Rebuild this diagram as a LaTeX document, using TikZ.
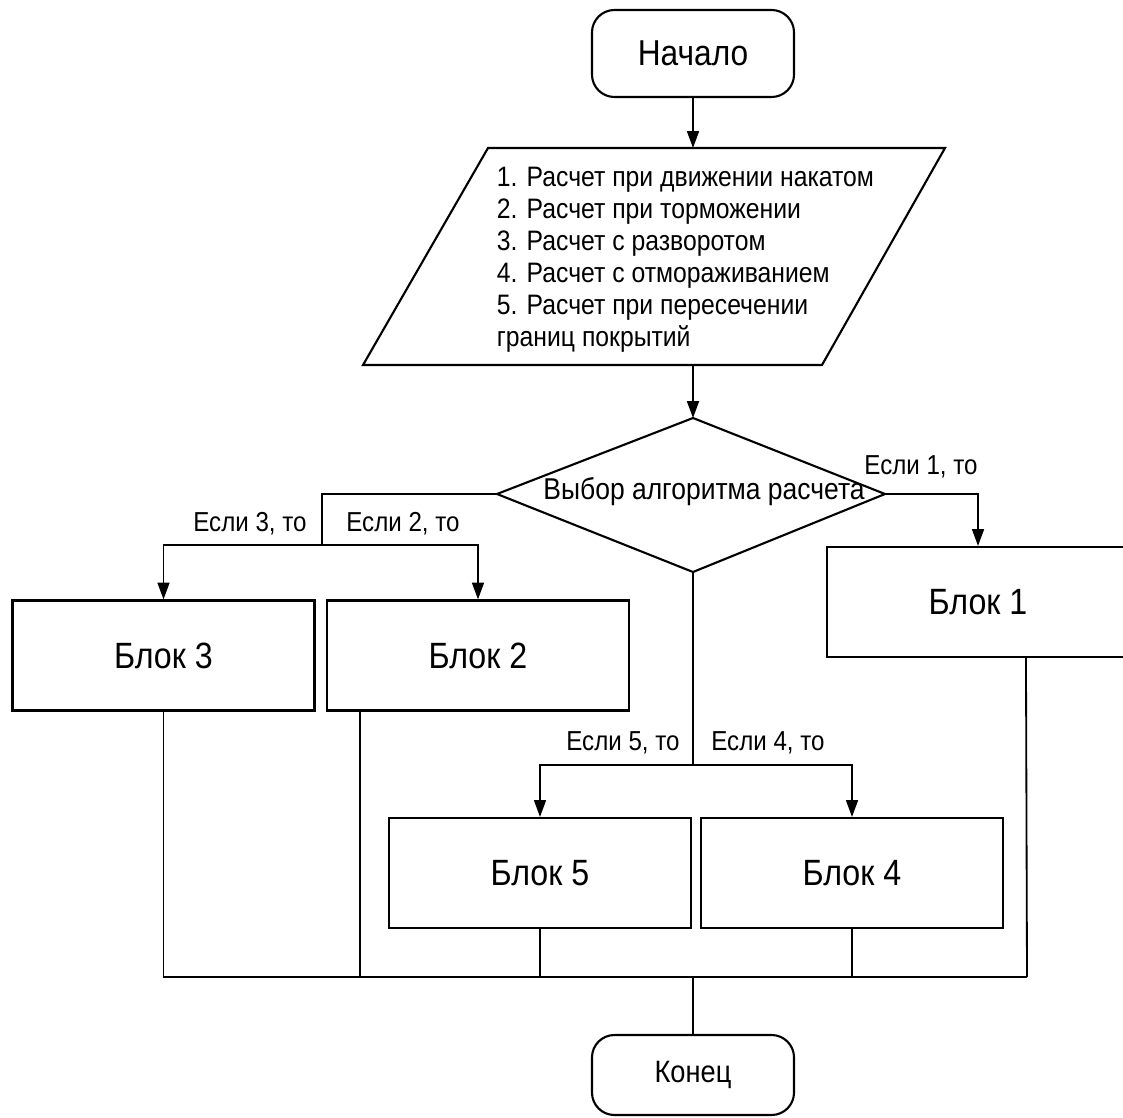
\documentclass[tikz,border=0pt]{standalone}
\usepackage{fontspec}
\setmainfont{Liberation Sans}[FakeStretch=0.88]
\usetikzlibrary{arrows.meta}
\tikzset{
  arr/.style={-{Triangle[length=12pt,width=8.5pt]}},
  term/.style={draw,line width=1.5pt,rounded corners=16pt,minimum width=5.05cm,minimum height=2.175cm,inner sep=0pt},
  block/.style={draw,line width=1.5pt,minimum width=7.55cm,minimum height=2.75cm,inner sep=0pt,font=\fontsize{26}{30}\selectfont},
  lbl/.style={inner sep=0pt,font=\fontsize{19.5}{22}\selectfont}
}
\begin{document}
\begin{tikzpicture}[x=0.025cm,y=-0.025cm,line width=1.3pt]
\useasboundingbox (0,0) rectangle (1123,1117);
\node[term,font=\fontsize{25.6}{30}\selectfont](start) at (693,53.5) {Начало};
% input parallelogram
\coordinate (inN) at (693,148);
\coordinate (inS) at (693,365);
\draw[line width=1.5pt] (488,148) -- (945,148) -- (822,365) -- (363,365) -- cycle;
\node[anchor=north west,align=left,inner sep=0pt,font=\fontsize{20}{22.8}\selectfont](input) at (496,166)
{1. Расчет при движении накатом\\2. Расчет при торможении\\3. Расчет с разворотом\\4. Расчет с отмораживанием\\5. Расчет при пересечении\\границ покрытий};
% choice
\coordinate (chN) at (693,418);
\coordinate (chS) at (693,572);
\coordinate (chW) at (497,494);
\coordinate (chE) at (885,494);
\draw[line width=1.5pt] (chN) -- (chE) -- (chS) -- (chW) -- cycle;
\node[inner sep=0pt,font=\fontsize{21.4}{25}\selectfont](choice) at (704,492) {Выбор алгоритма расчета};
% blocks
\node[block](b1) at (978,602) {Блок 1};
\node[block](b2) at (478,655.5) {Блок 2};
\node[block](b3) at (163.5,655.5) {Блок 3};
\node[block](b4) at (852,873) {Блок 4};
\node[block](b5) at (540,873) {Блок 5};
\node[term,minimum height=2cm,font=\fontsize{22}{26}\selectfont](end) at (693,1075) {Конец};
% forks and joins
\coordinate (fork32) at (322,545);
\coordinate (fork54) at (693,765);
\coordinate (join) at (693,977);
\coordinate (joinR) at (1027,977);
\coordinate (b2out) at ([xshift=0.85cm]b2.south west);
\coordinate (b1out) at ([xshift=5cm]b1.south west);
\draw[arr](start) -- (inN);
\draw[arr](inS) -- (chN);
\draw(chW) -| (fork32);
\draw[arr](fork32) -| (b3);
\draw[arr](fork32) -| (b2);
\draw[arr](chE) -| (b1);
\draw(chS) -- (fork54);
\draw[arr](fork54) -| (b5);
\draw[arr](fork54) -| (b4);
\draw(b3) |- (joinR);
\draw(b2out) -- (b2out |- join);
\draw(b5) -- (b5 |- join);
\draw(b4) -- (b4 |- join);
\draw(b1out) -- (joinR);
\draw(join) -- (end);
% labels
\node[lbl](l1) at (921,467) {Если 1, то};
\node[lbl](l3) at (250,524) {Если 3, то};
\node[lbl](l2) at (403,524) {Если 2, то};
\node[lbl](l5) at (623,743) {Если 5, то};
\node[lbl](l4) at (768,743) {Если 4, то};
\end{tikzpicture}
\end{document}
